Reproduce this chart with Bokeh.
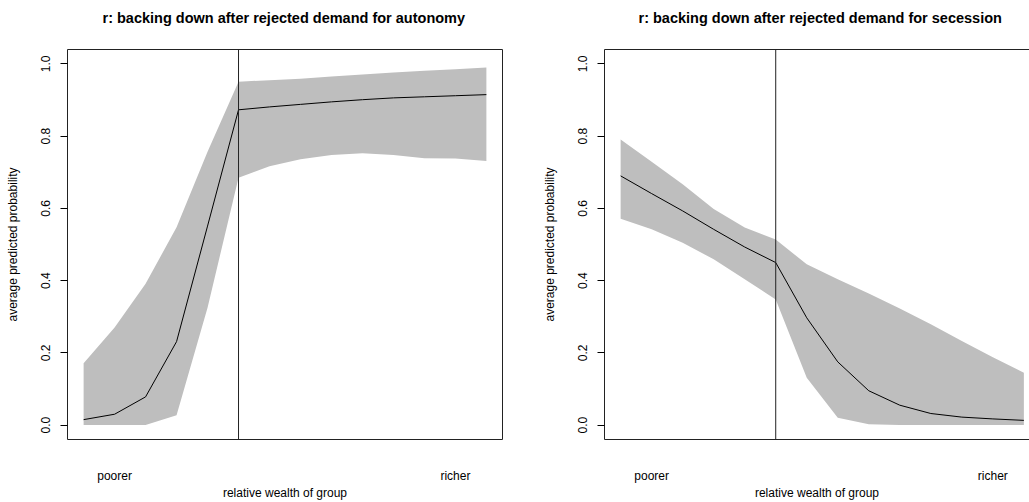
from bokeh.plotting import figure
from bokeh.layouts import row
from bokeh.models import Range1d, Span, FixedTicker, PrintfTickFormatter, LinearAxis, Title
from bokeh.embed import file_html
from bokeh.resources import INLINE

# ---- data ----
wealth_pos = [1, 2, 3, 4, 5, 6, 7, 8, 9, 10, 11, 12, 13, 14]
threshold_pos = 6
wealth_tick_pos = [2, 13]
wealth_tick_labels = ["poorer", "richer"]
y_ticks = [0.0, 0.2, 0.4, 0.6, 0.8, 1.0]

auto_mean = [0.015, 0.030, 0.078, 0.231, 0.551, 0.873, 0.881, 0.888, 0.895, 0.901, 0.906, 0.909, 0.912, 0.915]
auto_upper = [0.171, 0.270, 0.391, 0.548, 0.757, 0.951, 0.955, 0.959, 0.965, 0.971, 0.976, 0.981, 0.985, 0.990]
auto_lower = [0.000, 0.000, 0.000, 0.027, 0.325, 0.685, 0.717, 0.736, 0.748, 0.753, 0.748, 0.739, 0.738, 0.731]

sec_mean = [0.690, 0.641, 0.593, 0.542, 0.493, 0.450, 0.297, 0.175, 0.095, 0.055, 0.032, 0.022, 0.017, 0.013]
sec_upper = [0.791, 0.729, 0.667, 0.598, 0.547, 0.514, 0.445, 0.404, 0.364, 0.323, 0.279, 0.233, 0.188, 0.145]
sec_lower = [0.571, 0.542, 0.505, 0.459, 0.404, 0.348, 0.131, 0.020, 0.002, 0.000, 0.000, 0.000, 0.000, 0.000]

titles = ["r: backing down after rejected demand for autonomy",
          "r: backing down after rejected demand for secession"]
xlab = "relative wealth of group"
ylab = "average predicted probability"

FONT = "Liberation Sans"
BAND = "#BEBEBE"
H = 502
PX_PER_X = 435.5 / 14.04


def make_panel(mean, lower, upper, title, width, border_left, border_right, x_end, full_outline, title_offset):
    p = figure(width=width, height=H, output_backend="svg", toolbar_location=None,
               x_range=Range1d(0.48, x_end), y_range=Range1d(-0.04, 1.04),
               min_border_left=border_left, min_border_right=border_right,
               min_border_top=49, min_border_bottom=63,
               x_axis_location=None, y_axis_location=None)
    p.grid.visible = False
    p.background_fill_color = "white"
    p.border_fill_color = "white"
    if full_outline:
        p.outline_line_color = "#222222"
        p.outline_line_width = 1
    else:
        p.outline_line_color = None

    p.title.text = title
    p.title.align = "left"
    p.title.offset = title_offset
    p.title.vertical_align = "bottom"
    p.title.text_font = FONT
    p.title.text_font_size = "14.5px"
    p.title.text_font_style = "bold"
    p.title.text_color = "black"
    p.title.standoff = 0

    if not full_outline:
        ta = LinearAxis(ticker=FixedTicker(ticks=[]))
        ta.major_label_text_font_size = "0px"
        ta.major_tick_in = 0
        ta.major_tick_out = 0
        ta.major_label_standoff = 0
        ta.major_tick_line_color = None
        ta.minor_tick_line_color = None
        ta.axis_line_color = "#222222"
        p.add_layout(ta, "above")

    # spacer between the frame and the title
    p.add_layout(Title(text=" ", text_font=FONT, text_font_size="14px", standoff=6), "above")

    # y axis
    ya = LinearAxis(ticker=FixedTicker(ticks=y_ticks), formatter=PrintfTickFormatter(format="%.1f"))
    ya.axis_label = ylab
    ya.axis_label_text_font = FONT
    ya.axis_label_text_font_size = "12px"
    ya.axis_label_text_font_style = "normal"
    ya.axis_label_text_color = "black"
    ya.axis_label_standoff = 19
    ya.major_label_text_font = FONT
    ya.major_label_text_font_size = "12px"
    ya.major_label_text_color = "black"
    ya.major_label_orientation = "vertical"
    ya.major_label_standoff = 10
    ya.major_tick_in = 0
    ya.major_tick_out = 7
    ya.major_tick_line_color = "black"
    ya.minor_tick_line_color = None
    ya.axis_line_color = None if full_outline else "#222222"
    p.add_layout(ya, "left")

    # x axis (labels only)
    xa = LinearAxis(ticker=FixedTicker(ticks=wealth_tick_pos))
    xa.major_label_overrides = {k: v for k, v in zip(wealth_tick_pos, wealth_tick_labels)}
    xa.axis_label = xlab
    xa.axis_label_text_font = FONT
    xa.axis_label_text_font_size = "12px"
    xa.axis_label_text_font_style = "normal"
    xa.axis_label_text_color = "black"
    xa.axis_label_standoff = 0
    xa.major_label_text_font = FONT
    xa.major_label_text_font_size = "12px"
    xa.major_label_text_color = "black"
    xa.major_label_standoff = 29
    xa.major_tick_in = 0
    xa.major_tick_out = 0
    xa.major_tick_line_color = None
    xa.minor_tick_line_color = None
    xa.axis_line_color = None if full_outline else "#222222"
    p.add_layout(xa, "below")

    p.varea(x=wealth_pos, y1=lower, y2=upper, fill_color=BAND, fill_alpha=1.0)
    p.line(x=wealth_pos, y=mean, line_color="black", line_width=1)
    p.add_layout(Span(location=threshold_pos, dimension="height", line_color="#222222", line_width=1))
    return p


p1 = make_panel(auto_mean, auto_lower, auto_upper, titles[0], 514, 67, 12, 14.52, True, 35)
right_frame_w = 515 - 90
p2 = make_panel(sec_mean, sec_lower, sec_upper, titles[1], 515, 90, 0,
                0.48 + right_frame_w / PX_PER_X, False, 34)

layout = row(p1, p2)
open("out.html", "w").write(file_html(layout, INLINE))
